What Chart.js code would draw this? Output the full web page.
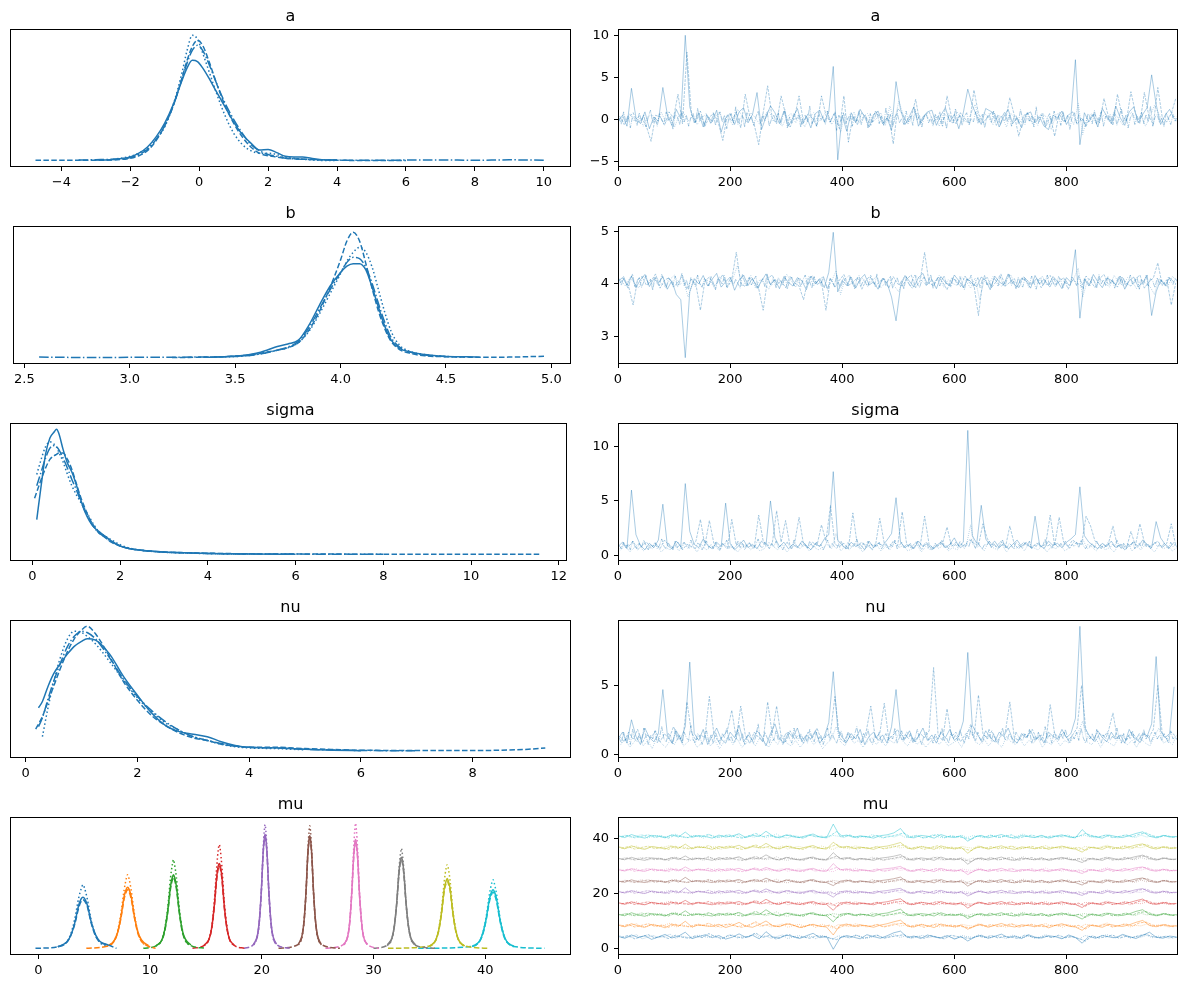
<!DOCTYPE html>
<html><head><meta charset="utf-8">
<script src="https://cdn.jsdelivr.net/npm/chart.js@4.4.0/dist/chart.umd.min.js"></script>
<style>
html,body{margin:0;padding:0;background:#fff;}
#fig{position:relative;width:1187px;height:989px;overflow:hidden;background:#fff;}
.panel{position:absolute;}
</style></head><body><div id="fig"></div>
<script>
// ---------------- titles & ticks ----------------
const titles = ['a','b','sigma','nu','mu'];
const aKdeTicks = [-4,-2,0,2,4,6,8,10], aKdeTickLabels = ['−4','−2','0','2','4','6','8','10'];
const bKdeTicks = [2.5,3.0,3.5,4.0,4.5,5.0], bKdeTickLabels = ['2.5','3.0','3.5','4.0','4.5','5.0'];
const sKdeTicks = [0,2,4,6,8,10,12], sKdeTickLabels = ['0','2','4','6','8','10','12'];
const nKdeTicks = [0,2,4,6,8], nKdeTickLabels = ['0','2','4','6','8'];
const mKdeTicks = [0,10,20,30,40], mKdeTickLabels = ['0','10','20','30','40'];
const drawTicks = [0,200,400,600,800], drawTickLabels = ['0','200','400','600','800'];
const aTraceTicks = [-5,0,5,10], aTraceTickLabels = ['−5','0','5','10'];
const bTraceTicks = [3,4,5], bTraceTickLabels = ['3','4','5'];
const sTraceTicks = [0,5,10], sTraceTickLabels = ['0','5','10'];
const nTraceTicks = [0,5], nTraceTickLabels = ['0','5'];
const mTraceTicks = [0,20,40], mTraceTickLabels = ['0','20','40'];

// ---------------- KDE data (left column) ----------------
const aKdeGrid = [-4.75,-4,-3.5,-3,-2.5,-2,-1.75,-1.5,-1.25,-1,-0.75,-0.5,-0.35,-0.2,-0.05,0.1,0.3,0.5,0.75,1,1.25,1.5,1.75,2,2.25,2.5,2.75,3,3.25,3.5,4,5,6,7,8,9,10.05];
const aKdeC0 = [null,null,null,0.005,0.01,0.03,0.06,0.11,0.19,0.30,0.45,0.64,0.74,0.80,0.79,0.74,0.65,0.55,0.43,0.31,0.21,0.14,0.085,0.09,0.065,0.035,0.03,0.03,0.02,0.01,0.005,null,null,null,null,null,null];
const aKdeC1 = [0.003,0.003,0.003,0.004,0.006,0.02,0.04,0.08,0.16,0.28,0.44,0.66,0.80,0.91,0.96,0.92,0.78,0.62,0.44,0.30,0.19,0.11,0.06,0.04,0.03,0.02,0.015,0.012,0.01,0.008,0.004,0.002,0.002,null,null,null,null];
const aKdeC2 = [null,null,null,null,0.01,0.035,0.06,0.10,0.17,0.27,0.45,0.70,0.88,1.0,0.97,0.86,0.70,0.54,0.36,0.22,0.13,0.08,0.06,0.06,0.05,0.03,0.02,0.012,0.006,0.003,0.002,null,null,null,null,null,null];
const aKdeC3 = [null,null,0.005,0.008,0.012,0.025,0.05,0.09,0.17,0.28,0.44,0.65,0.78,0.88,0.92,0.88,0.76,0.62,0.46,0.33,0.22,0.13,0.08,0.05,0.035,0.02,0.015,0.012,0.01,0.008,0.005,0.004,0.005,0.006,0.004,0.007,0.004];

const bKdeGrid = [2.57,2.8,3.0,3.2,3.35,3.45,3.55,3.6,3.65,3.7,3.75,3.8,3.85,3.9,3.95,4.0,4.03,4.06,4.09,4.12,4.15,4.18,4.21,4.24,4.28,4.33,4.4,4.5,4.6,4.66,4.8,4.97];
const bKdeC0 = [null,null,null,null,0.003,0.008,0.02,0.035,0.06,0.09,0.11,0.14,0.26,0.42,0.57,0.68,0.73,0.75,0.75,0.70,0.56,0.40,0.25,0.14,0.075,0.045,0.025,0.01,0.008,0.004,null,null];
const bKdeC1 = [null,null,null,0.002,0.004,0.008,0.02,0.03,0.045,0.06,0.08,0.12,0.22,0.37,0.56,0.78,0.93,1.0,0.93,0.75,0.55,0.37,0.23,0.13,0.065,0.035,0.015,0.008,0.005,0.004,0.005,0.012];
const bKdeC2 = [null,null,null,null,null,0.005,0.015,0.025,0.04,0.06,0.08,0.12,0.21,0.35,0.51,0.67,0.77,0.84,0.88,0.84,0.72,0.54,0.36,0.21,0.10,0.05,0.025,0.01,0.005,null,null,null];
const bKdeC3 = [0.005,0.002,0.003,0.004,0.006,0.008,0.015,0.025,0.04,0.06,0.085,0.13,0.24,0.39,0.54,0.68,0.76,0.80,0.79,0.72,0.59,0.43,0.28,0.16,0.085,0.045,0.022,0.01,null,null,null,null];

const sKdeGrid = [0.05,0.1,0.2,0.3,0.4,0.5,0.55,0.6,0.7,0.8,0.9,1.0,1.1,1.2,1.3,1.4,1.5,1.65,1.8,2.0,2.2,2.5,3.0,3.5,4.0,4.5,5,6,7,8,9,10,11.6];
const sKdeC0 = [null,0.28,0.55,0.80,0.93,0.98,1.0,0.97,0.84,0.73,0.66,0.56,0.44,0.34,0.27,0.22,0.19,0.15,0.11,0.07,0.05,0.035,0.022,0.015,0.01,0.007,0.005,0.004,null,null,null,null,null];
const sKdeC1 = [0.45,0.50,0.60,0.69,0.76,0.79,0.80,0.81,0.81,0.76,0.68,0.57,0.46,0.37,0.29,0.23,0.18,0.14,0.10,0.07,0.05,0.035,0.022,0.016,0.012,0.009,0.007,0.006,0.005,0.004,0.004,0.003,0.004];
const sKdeC2 = [null,0.64,0.76,0.86,0.90,0.88,0.86,0.82,0.74,0.64,0.55,0.48,0.42,0.36,0.30,0.24,0.19,0.15,0.12,0.08,0.055,0.035,0.02,0.013,0.009,0.006,0.005,null,null,null,null,null,null];
const sKdeC3 = [null,0.55,0.66,0.77,0.85,0.87,0.86,0.84,0.77,0.69,0.60,0.52,0.43,0.35,0.28,0.22,0.18,0.14,0.105,0.07,0.05,0.034,0.02,0.014,0.01,0.007,0.006,0.005,0.004,0.003,null,null,null];

const nKdeGrid = [0.18,0.23,0.3,0.4,0.5,0.6,0.75,0.87,1.0,1.1,1.25,1.5,1.75,2.0,2.25,2.5,2.75,3.0,3.25,3.5,3.75,4.0,4.5,5.0,5.5,6.0,7.0,8.0,8.5,9.0,9.3];
const nKdeC0 = [null,0.35,0.40,0.52,0.62,0.69,0.78,0.84,0.88,0.90,0.89,0.78,0.60,0.45,0.31,0.21,0.16,0.14,0.12,0.08,0.05,0.035,0.03,0.02,0.012,0.008,null,null,null,null,null];
const nKdeC1 = [0.18,0.22,0.28,0.40,0.52,0.64,0.80,0.90,0.97,1.0,0.94,0.76,0.56,0.41,0.29,0.21,0.15,0.11,0.09,0.06,0.045,0.035,0.035,0.025,0.018,0.012,0.01,0.01,0.012,0.02,0.03];
const nKdeC2 = [null,null,0.12,0.35,0.55,0.72,0.90,0.96,0.95,0.92,0.86,0.72,0.57,0.43,0.32,0.23,0.17,0.12,0.09,0.06,0.04,0.03,0.025,0.015,null,null,null,null,null,null,null];
const nKdeC3 = [null,0.20,0.27,0.42,0.56,0.68,0.84,0.92,0.96,0.95,0.90,0.75,0.58,0.44,0.33,0.24,0.17,0.12,0.09,0.065,0.045,0.035,0.03,0.02,0.014,0.01,0.008,null,null,null,null];

const muKdeX = [
 [-0.25,1.75,2.5,2.88,3.25,3.63,3.85,4.0,4.15,4.38,4.75,5.13,5.5,6.25,7.0],
 [4.3,6.14,6.76,7.07,7.38,7.69,7.88,8.0,8.12,8.31,8.62,8.93,9.24,9.86,10.5],
 [9.4,10.54,11.06,11.32,11.58,11.84,12.0,12.1,12.2,12.36,12.62,12.88,13.14,13.66,15.0],
 [13.8,14.85,15.3,15.53,15.75,15.98,16.11,16.2,16.29,16.43,16.65,16.88,17.1,17.55,18.5],
 [18.4,19.28,19.62,19.79,19.96,20.13,20.23,20.3,20.37,20.47,20.64,20.81,20.98,21.32,22.5],
 [21.5,23.28,23.62,23.79,23.96,24.13,24.23,24.3,24.37,24.47,24.64,24.81,24.98,25.32,27.0],
 [25.7,27.35,27.7,27.88,28.05,28.23,28.33,28.4,28.47,28.58,28.75,28.93,29.1,29.45,30.5],
 [30.0,31.24,31.66,31.87,32.08,32.29,32.42,32.5,32.58,32.71,32.92,33.13,33.34,33.76,35.5],
 [31.3,35.04,35.56,35.82,36.08,36.34,36.5,36.6,36.7,36.86,37.12,37.38,37.64,38.16,40.4],
 [34.0,38.84,39.46,39.77,40.08,40.39,40.58,40.7,40.82,41.01,41.32,41.63,41.94,42.56,45.3]
];
const muKdeSolid = [
 [null,0.016,0.05,0.10,0.2,0.35,0.40,0.41,0.40,0.35,0.21,0.11,0.06,0.03,null],
 [null,0.02,0.06,0.12,0.245,0.42,0.475,0.49,0.475,0.42,0.25,0.13,0.07,0.025,null],
 [null,0.024,0.07,0.15,0.295,0.50,0.57,0.59,0.57,0.50,0.30,0.15,0.08,0.03,null],
 [null,0.027,0.08,0.17,0.34,0.58,0.66,0.68,0.66,0.58,0.34,0.17,0.08,0.027,null],
 [null,0.036,0.11,0.23,0.455,0.77,0.88,0.91,0.88,0.77,0.455,0.23,0.11,0.036,null],
 [null,0.036,0.11,0.225,0.45,0.765,0.87,0.90,0.87,0.765,0.45,0.225,0.11,0.036,null],
 [null,0.035,0.1,0.22,0.435,0.74,0.84,0.87,0.84,0.74,0.435,0.22,0.1,0.035,null],
 [null,0.03,0.088,0.18,0.365,0.62,0.71,0.73,0.71,0.62,0.365,0.18,0.088,0.03,null],
 [null,0.022,0.067,0.14,0.28,0.48,0.54,0.56,0.54,0.48,0.28,0.14,0.067,0.022,null],
 [null,0.019,0.056,0.12,0.235,0.40,0.455,0.47,0.455,0.40,0.235,0.12,0.056,0.019,null]
];
const muKdeDashed = [
 [0.003,0.015,0.045,0.1,0.19,0.33,0.38,0.39,0.38,0.34,0.2,0.1,0.055,0.03,0.003],
 [0.003,0.02,0.055,0.12,0.235,0.40,0.455,0.47,0.455,0.40,0.24,0.12,0.06,0.02,0.003],
 [0.003,0.023,0.068,0.14,0.285,0.48,0.55,0.57,0.55,0.48,0.29,0.14,0.07,0.025,0.003],
 [0.003,0.026,0.08,0.165,0.33,0.56,0.64,0.66,0.64,0.56,0.33,0.165,0.08,0.026,0.003],
 [0.003,0.035,0.105,0.22,0.445,0.76,0.86,0.89,0.86,0.76,0.445,0.22,0.105,0.035,0.003],
 [0.003,0.035,0.105,0.22,0.44,0.75,0.85,0.88,0.85,0.75,0.44,0.22,0.105,0.035,0.003],
 [0.003,0.034,0.1,0.21,0.425,0.72,0.82,0.85,0.82,0.72,0.425,0.21,0.1,0.034,0.003],
 [0.003,0.028,0.085,0.18,0.355,0.60,0.69,0.71,0.69,0.60,0.355,0.18,0.085,0.028,0.003],
 [0.003,0.022,0.065,0.135,0.27,0.46,0.52,0.54,0.52,0.46,0.27,0.135,0.065,0.022,0.003],
 [0.003,0.018,0.054,0.11,0.225,0.38,0.435,0.45,0.435,0.38,0.225,0.11,0.054,0.018,0.003]
];
const muKdeDotted = [
 [null,0.015,0.05,0.11,0.23,0.41,0.48,0.51,0.48,0.40,0.22,0.11,0.05,0.02,null],
 [null,0.018,0.06,0.13,0.27,0.47,0.56,0.59,0.56,0.47,0.27,0.13,0.06,0.018,null],
 [null,0.02,0.07,0.16,0.32,0.57,0.67,0.71,0.67,0.57,0.32,0.16,0.07,0.02,null],
 [null,0.025,0.08,0.18,0.37,0.66,0.79,0.83,0.79,0.66,0.37,0.18,0.08,0.025,null],
 [null,0.03,0.1,0.22,0.45,0.79,0.94,0.99,0.94,0.79,0.45,0.22,0.1,0.03,null],
 [null,0.03,0.1,0.22,0.44,0.78,0.93,0.98,0.93,0.78,0.44,0.22,0.1,0.03,null],
 [null,0.03,0.1,0.22,0.45,0.8,0.95,1.0,0.95,0.8,0.45,0.22,0.1,0.03,null],
 [null,0.024,0.08,0.18,0.36,0.64,0.76,0.80,0.76,0.64,0.36,0.18,0.08,0.024,null],
 [null,0.02,0.067,0.15,0.3,0.54,0.64,0.67,0.64,0.54,0.3,0.15,0.067,0.02,null],
 [null,0.017,0.055,0.12,0.25,0.44,0.52,0.55,0.52,0.44,0.25,0.12,0.055,0.017,null]
];

// ---------------- trace data (right column) ----------------
// chains 1-3 sampled every 8 draws (offsets 0,3,5); chain 4 every 4 draws (offset 2)
const aTrace1 = [-0.3,0.5,-0.8,3.7,0.2,-0.5,0.9,-1.1,0.3,-0.2,3.8,0.6,-0.7,1.2,0.1,10.0,1.5,-0.4,0.8,-0.9,0.4,-0.3,1.1,-1.5,0.2,0.7,-0.6,0.9,1.4,-0.4,0.6,3.2,-1.2,0.3,1.6,0.8,-0.5,1.0,-0.8,0.2,1.3,-0.6,0.4,-1.0,0.7,1.1,-0.3,0.9,6.3,-4.8,0.5,-1.4,0.8,-0.4,1.2,0.3,-0.9,0.6,1.0,-0.5,0.2,-1.3,4.5,1.2,-0.6,0.4,1.5,-0.8,0.3,0.9,1.1,-0.7,0.5,1.4,-0.3,0.6,-1.1,0.8,3.6,1.7,0.4,-0.6,1.3,1.0,0.7,-0.9,0.3,1.2,-0.5,0.2,-1.0,0.6,0.9,-0.4,0.3,-0.8,-1.2,0.5,0.2,1.0,-0.6,0.4,7.1,-3.0,0.8,-0.3,0.6,-0.9,1.3,0.4,-0.5,1.6,0.2,-0.7,0.9,1.5,-0.4,0.6,1.4,5.3,1.8,-0.6,0.5,1.2,0.1];
const aTrace2 = [0.4,-0.6,0.2,0.8,-0.4,0.1,-0.9,-2.6,0.5,0.3,-0.7,0.9,0.2,3.0,-0.5,8.0,0.6,-0.3,1.0,-0.8,0.3,0.7,-0.4,-2.5,0.6,-0.2,0.9,-1.0,3.0,0.4,-0.6,-3.0,0.8,4.0,0.2,-0.5,2.8,0.6,-0.9,0.3,2.8,-0.4,0.7,0.1,-0.8,2.8,0.5,-0.3,0.9,-1.1,2.8,-2.7,0.4,-0.6,0.8,0.2,-0.7,1.0,0.3,-0.5,0.6,-2.9,1.3,0.7,-0.4,0.2,2.4,-0.6,0.5,0.9,-0.3,0.4,-0.8,2.8,0.3,-0.5,0.8,0.1,-0.6,3.5,0.7,-0.4,0.2,0.9,-0.7,0.4,-0.2,2.6,0.5,-2.0,0.3,0.8,-0.5,0.1,0.6,-0.9,0.4,-2.0,0.7,-0.3,0.5,0.9,-0.6,0.2,-0.8,0.4,0.6,-0.4,2.5,0.3,-0.7,3.0,0.5,-0.2,3.3,0.8,-0.5,3.2,0.4,-0.6,3.8,0.2,-0.3,0.7,2.5];
const aTrace3 = [0.1,-0.5,0.7,-0.2,0.4,-0.8,0.3,0.6,-0.4,0.9,-0.3,0.2,-0.9,0.5,0.8,-0.2,0.4,-0.6,0.1,0.7,-0.5,0.3,0.9,-0.4,0.2,-0.7,1.2,0.5,-0.3,0.8,0.2,-0.6,0.4,1.1,-0.2,0.6,-0.8,0.3,0.7,-0.4,0.5,-0.9,0.2,0.8,-0.3,0.4,1.0,-0.6,0.3,-1.5,0.6,-0.2,0.9,-0.5,0.3,0.7,-0.4,0.1,0.8,-0.7,1.6,-0.3,2.2,0.5,-0.6,0.2,0.8,-0.4,0.6,-0.2,0.4,-0.8,0.7,0.3,-0.5,0.9,0.1,-0.3,0.6,1.8,-0.4,0.8,0.2,-0.6,0.5,0.3,-0.9,0.7,0.1,-0.4,0.6,-0.2,0.3,-0.7,0.8,0.2,-1.2,0.5,0.9,-0.3,0.4,-0.6,1.9,-1.8,0.3,0.7,-0.5,0.2,0.6,-0.3,0.8,0.1,-0.7,0.4,0.9,-0.2,0.5,-0.8,0.3,1.7,0.6,-0.4,0.2,0.8,-0.3];
const aTrace4 = [0.2,-0.6,0.9,-0.3,0.5,-1.0,0.4,0.1,-0.7,0.8,-0.2,0.6,-0.9,0.3,1.1,-0.4,0.2,-0.8,0.7,0.0,-0.5,0.9,-0.1,0.4,-1.2,0.6,0.3,-0.6,1.0,-0.3,0.5,-0.8,0.2,0.7,-0.4,1.3,-0.2,0.4,-0.9,0.6,0.1,-0.5,0.8,-0.7,0.3,0.9,-0.3,0.5,-1.1,0.2,0.7,-0.4,1.5,-0.6,0.2,0.5,-0.9,0.8,-0.1,0.4,-0.7,0.3,1.0,-0.5,0.6,-0.2,0.9,-0.8,0.1,0.5,-0.3,0.8,-0.6,0.4,1.2,-1.0,0.3,-0.4,0.7,0.0,0.6,-0.9,0.2,0.5,-0.3,1.6,-0.5,0.2,-0.8,0.9,-0.1,0.4,-0.6,1.0,-0.4,0.3,0.7,-1.3,0.5,-0.2,0.8,-0.5,0.1,0.6,-0.8,0.4,-0.2,1.1,-0.6,0.3,0.5,-1.0,0.7,-0.3,0.2,0.9,-0.5,0.4,-0.7,1.4,-0.2,0.6,-0.9,0.3,0.8,-0.4,0.1,-0.6,1.0,-0.3,0.4,-0.7,1.2,-0.1,0.5,-0.9,0.3,0.7,-0.4,0.2,-0.8,0.6,0.0,0.9,-0.5,0.3,-1.1,0.7,0.2,-0.4,1.3,-0.2,0.5,-0.7,0.4,0.8,-0.6,0.1,-0.3,0.9,-0.5,0.3,0.6,-1.0,0.2,0.7,-0.4,1.0,-0.2,0.5,-0.7,0.4,0.9,-0.3,0.6,-0.8,0.2,0.5,-0.5,1.2,0.0,-0.6,0.8,-0.2,0.4,-0.9,1.5,-0.4,0.3,0.6,-0.8,0.2,0.7,-0.5,1.0,-0.1,0.4,-0.7,0.9,-0.3,0.5,-1.2,0.3,0.8,-0.4,0.6,-0.2,0.1,-0.9,0.7,0.3,-0.5,1.1,-0.6,0.2,0.9,-0.8,0.4,-0.1,0.6,-0.4,0.8,-0.7,0.3,1.3,-0.3,0.5,-1.0,0.2,0.7,-0.6,0.4,0.0,0.9,-0.5,0.6,-0.3,1.6,-0.8,0.3,0.6,-0.4,0.2,-0.9,0.8,0.1,-0.6,0.5,-0.2,0.4];

const bTrace1 = [4.05,4.12,3.98,4.15,3.93,4.08,4.18,3.95,4.10,4.02,4.14,3.90,4.06,3.80,3.70,2.60,3.85,4.10,4.00,4.16,3.96,4.09,4.20,3.94,4.04,4.13,3.88,4.07,4.17,3.97,4.11,3.92,4.05,4.19,3.99,4.08,3.91,4.14,4.03,3.96,4.12,4.06,3.89,4.15,4.00,4.10,3.93,4.22,4.98,3.85,4.07,3.97,4.13,3.92,4.09,4.18,3.98,4.04,3.90,4.11,4.02,3.75,3.30,3.95,4.16,4.05,3.94,4.12,4.20,3.99,4.08,3.91,4.14,4.03,3.96,4.17,4.06,3.93,4.10,4.01,3.95,4.13,4.07,3.89,4.15,4.04,3.98,4.19,4.02,3.94,4.11,4.06,3.92,4.16,4.00,4.09,3.97,4.14,4.05,3.91,4.12,4.03,4.65,3.35,4.10,3.96,4.18,4.04,3.93,4.11,4.07,3.98,4.15,3.90,4.06,4.13,3.95,4.02,4.17,3.40,3.85,4.08,3.97,4.12,4.03];
const bTrace2 = [4.02,4.10,3.95,3.60,4.08,4.14,3.97,4.05,4.19,3.92,4.07,4.12,3.94,4.03,4.16,3.90,4.09,3.99,3.50,4.06,4.13,3.96,4.04,4.18,3.93,4.08,4.60,4.01,3.95,4.12,4.05,3.91,3.50,4.10,4.17,3.98,4.06,3.93,4.14,4.02,3.96,3.70,4.09,4.15,3.99,4.04,3.50,4.11,3.94,4.07,4.18,3.97,4.03,4.12,3.90,4.08,4.16,3.95,4.05,4.10,3.92,4.14,4.00,3.96,4.09,4.17,3.93,4.06,4.60,4.01,3.97,4.13,4.04,3.89,4.11,4.07,3.95,4.15,4.02,3.98,3.40,4.08,4.12,3.94,4.05,4.19,3.96,4.03,4.10,3.92,4.14,4.06,3.99,4.11,3.93,4.07,4.16,3.97,4.04,4.12,3.90,4.08,4.02,3.95,4.15,4.05,3.93,4.10,4.18,3.98,4.06,3.94,4.13,4.01,3.96,4.09,4.17,3.92,4.04,4.11,4.40,3.97,4.08,3.60,4.02];
const bTrace3 = [4.08,3.96,4.11,4.03,3.92,4.15,4.05,3.98,4.12,4.01,3.94,4.09,4.17,3.97,4.06,3.75,4.02,4.13,3.95,4.08,4.04,3.91,4.14,4.07,3.99,4.10,4.35,3.96,4.05,4.16,3.93,4.08,4.02,3.90,4.12,4.04,3.97,4.18,4.06,3.94,4.10,4.01,4.15,3.96,4.07,4.13,3.92,4.05,4.25,3.80,4.09,4.17,3.95,4.03,4.11,3.98,4.06,4.14,3.93,4.02,4.08,3.96,3.85,4.12,4.04,3.91,4.15,4.07,3.99,4.10,4.03,4.16,3.94,4.08,4.01,3.97,4.13,4.05,3.92,4.11,3.70,4.06,3.98,4.14,4.02,3.95,4.09,4.17,3.96,4.04,4.12,3.93,4.07,4.00,4.15,3.97,4.06,3.94,4.11,4.03,3.98,4.10,4.30,3.75,4.05,4.13,3.96,4.08,4.01,3.94,4.16,4.04,3.97,4.12,4.06,3.91,4.09,4.02,3.95,3.80,4.10,4.03,3.96,4.14,4.07];
const bTrace4 = [4.10,3.97,4.14,4.02,3.91,4.08,4.19,3.95,4.06,4.12,3.93,4.04,4.16,3.99,4.09,3.88,4.13,4.01,3.96,4.18,4.05,3.92,4.11,4.07,3.98,4.15,3.94,4.03,4.20,3.97,4.08,3.90,4.12,4.04,3.95,4.17,4.00,3.93,4.10,4.06,3.96,4.14,4.02,3.89,4.11,4.07,3.99,4.16,3.94,4.05,4.13,3.97,4.09,4.01,3.92,4.18,4.04,3.96,4.12,3.98,4.07,4.15,3.91,4.03,4.10,3.95,4.19,4.02,3.97,4.08,3.93,4.12,4.05,3.99,4.16,3.90,4.06,4.13,3.96,4.02,4.11,3.94,4.08,4.17,3.98,4.04,3.92,4.14,4.01,4.09,3.97,4.15,4.03,3.88,4.10,4.06,3.95,4.18,4.00,3.93,4.12,4.05,3.96,4.14,4.02,3.91,4.09,4.16,3.97,4.07,4.01,3.94,4.13,4.06,3.99,4.19,3.93,4.04,4.11,3.96,4.08,4.15,3.92,4.03,4.12,3.98,4.06,3.90,4.14,4.02,3.95,4.10,4.17,4.00,3.93,4.07,4.13,3.97,4.05,4.18,3.91,4.04,4.11,3.96,4.08,4.15,3.99,4.02,3.94,4.12,4.06,3.97,4.14,4.01,3.89,4.10,4.05,4.17,3.95,4.03,4.12,3.93,4.08,4.16,3.98,4.04,3.92,4.11,4.07,3.96,4.14,4.02,3.95,4.09,4.18,3.97,4.05,3.91,4.13,4.00,3.94,4.11,4.06,3.99,4.15,4.03,3.90,4.08,4.12,3.96,4.05,4.17,3.93,4.02,4.10,3.98,4.14,4.06,3.92,4.09,4.01,3.95,4.13,4.07,3.97,4.16,4.04,3.91,4.10,4.03,3.96,4.12,4.05,3.93,4.18,4.00,4.08,3.97,4.14,4.02,4.09,3.92,4.06,4.15,3.99,4.11,3.94,4.04,4.17,3.98,4.03,4.13,3.90,4.07,4.01,4.16,3.96,4.10,4.05,3.93,4.12,3.98,4.08,4.02,3.95,4.14,4.06,3.99,4.11,4.04];

const sTrace1 = [0.8,1.2,0.6,6.0,1.9,0.9,0.5,1.1,0.7,1.4,4.7,0.9,0.6,1.3,0.8,6.6,2.2,1.0,0.7,1.5,0.9,0.6,1.2,0.8,4.8,1.1,0.5,0.9,1.4,0.7,1.0,0.6,1.3,0.9,5.0,1.6,0.8,1.2,0.6,1.0,0.7,1.3,0.9,0.5,1.1,0.8,1.5,1.9,7.7,1.4,0.9,0.6,1.2,0.8,1.0,0.5,1.3,0.7,1.1,0.9,1.4,2.0,5.3,1.2,0.7,1.0,0.6,1.3,0.8,1.1,0.5,0.9,1.2,0.7,1.0,1.6,0.8,1.2,11.5,1.8,1.1,4.6,1.5,0.9,1.3,0.7,1.1,0.6,1.0,1.4,0.8,1.2,0.7,3.6,1.0,0.6,1.3,0.9,1.1,0.7,1.2,1.5,1.9,6.3,1.8,1.2,0.9,0.6,1.1,0.8,1.3,0.7,1.0,0.5,0.9,1.2,0.8,1.4,1.0,0.7,3.1,1.6,1.0,0.7,1.2];
const sTrace2 = [0.6,1.0,0.8,1.3,0.5,0.9,1.2,0.7,1.1,0.6,1.4,0.9,0.7,1.2,0.5,1.0,0.8,1.3,3.3,0.9,3.2,1.1,0.7,1.0,0.6,3.3,0.9,1.2,0.8,1.1,0.7,3.7,1.3,0.9,1.0,4.1,1.2,3.2,0.8,1.1,3.5,1.0,0.7,1.2,0.9,2.8,1.3,4.6,1.0,0.8,1.1,0.6,3.9,0.9,1.2,0.7,1.0,0.8,3.4,1.1,0.6,1.3,0.9,4.0,1.0,0.7,1.2,0.8,3.6,1.0,0.6,0.9,1.1,2.6,0.8,1.2,0.7,1.0,1.4,1.1,0.9,2.9,1.5,1.0,0.8,1.3,0.7,2.7,1.0,0.6,1.2,0.9,0.7,1.1,0.8,1.0,3.7,0.9,3.5,1.2,0.8,1.4,1.1,1.0,3.6,2.7,1.3,0.9,0.7,1.1,2.7,0.8,1.0,0.6,2.2,0.9,2.9,1.2,0.8,1.0,1.3,0.7,1.1,2.9,0.9];
const sTrace3 = [0.5,0.9,0.3,0.7,1.1,0.4,0.8,0.6,1.0,0.3,0.7,0.5,0.9,0.4,1.2,0.6,0.8,0.3,1.0,0.5,0.7,0.9,0.4,1.1,0.6,0.8,0.3,0.7,1.0,0.5,0.9,0.4,0.6,1.2,0.8,0.5,1.0,0.3,0.7,0.9,0.6,1.1,0.4,0.8,0.5,0.7,1.0,0.6,2.0,0.4,0.8,0.5,1.1,0.7,0.3,0.9,0.6,1.0,0.4,0.8,0.5,1.2,0.7,0.9,0.4,0.6,1.0,0.3,0.8,0.5,0.9,0.6,1.1,0.4,0.7,0.5,1.0,0.8,2.8,0.6,0.9,0.4,1.2,0.7,0.5,1.0,0.3,0.8,0.6,0.9,0.4,1.1,0.7,0.5,0.9,0.3,0.8,0.6,1.0,0.4,0.7,1.2,0.9,1.5,0.6,0.8,0.4,1.0,0.5,0.7,0.3,0.9,0.6,1.1,0.4,0.8,0.5,1.0,0.7,0.3,0.9,0.6,0.8,0.4,0.7];
const sTrace4 = [0.9,0.6,1.2,0.7,1.0,0.5,1.3,0.8,0.6,1.1,0.7,1.4,0.9,0.5,1.0,0.8,1.2,0.6,0.9,1.5,0.8,0.6,1.1,0.9,0.5,1.3,0.7,1.0,0.6,1.2,0.9,0.7,1.4,0.8,0.6,1.1,1.0,0.5,0.9,1.3,0.7,1.0,0.6,1.2,0.8,0.5,1.1,0.9,1.4,0.7,1.0,0.6,0.8,1.3,0.7,1.1,0.5,0.9,1.2,0.8,0.6,1.0,1.5,0.8,0.7,1.2,0.9,0.6,1.1,0.8,1.3,0.7,0.9,0.5,1.0,1.2,0.8,0.6,1.4,0.9,0.7,1.1,0.8,1.0,0.6,1.3,0.9,0.7,1.2,0.8,1.0,0.5,0.9,1.4,0.7,1.1,0.8,0.6,1.0,1.3,0.8,0.6,1.2,0.9,0.7,1.0,1.5,0.8,0.6,1.1,0.9,1.3,0.7,0.5,1.0,0.8,1.2,0.6,0.9,1.1,0.7,1.0,0.8,1.4,0.6,0.9,1.2,0.7,1.0,0.8,1.1,0.6,0.9,1.3,0.8,0.5,1.0,1.2,0.7,0.9,0.6,1.1,0.8,1.0,1.4,0.7,0.9,0.6,1.2,0.8,1.0,0.7,1.3,0.9,0.6,1.1,0.8,1.5,0.9,0.7,1.2,0.8,0.6,1.0,0.9,1.3,0.7,1.1,0.8,0.6,1.0,1.4,0.8,0.7,1.1,0.9,0.6,1.2,1.0,0.8,0.7,1.1,0.9,1.3,0.6,1.0,0.8,1.2,0.7,0.9,1.5,0.8,1.0,0.6,1.2,0.9,0.7,1.1,0.8,1.3,0.9,0.6,1.0,0.8,1.2,0.7,1.4,0.9,0.6,1.0,0.8,1.1,0.7,1.3,0.9,0.6,1.0,0.8,1.2,0.7,1.0,0.8,1.4,0.9,0.6,1.1,0.7,1.0,0.8,1.2,0.6,0.9,1.1,0.7,1.3,0.8,1.0,0.6,0.9,1.2,0.8,1.0,0.7,1.1,0.9,0.6,1.2,0.8,1.0,0.7];

const nTrace1 = [1.1,1.6,0.8,2.5,1.3,0.7,1.9,1.2,0.9,1.5,4.7,1.4,0.8,1.7,1.1,2.0,6.7,1.5,1.0,1.8,0.7,1.3,1.9,1.1,0.8,1.6,1.2,2.1,0.9,1.4,1.0,1.7,1.3,0.6,1.5,2.2,1.1,0.8,1.6,1.2,1.9,0.9,1.4,1.1,1.7,0.8,1.3,2.3,6.0,1.8,1.2,0.9,1.5,1.1,1.8,0.7,1.3,1.6,1.0,1.4,0.8,2.0,4.7,1.5,1.1,1.7,0.9,1.3,1.9,1.0,1.4,0.8,1.6,1.2,1.8,1.0,1.3,2.4,7.4,2.1,1.5,1.0,1.7,1.2,0.9,1.6,1.3,1.9,1.1,0.8,1.5,1.2,1.7,1.0,1.4,0.8,1.6,1.3,1.1,1.8,1.2,1.5,2.6,9.3,2.0,1.4,1.0,1.7,1.2,0.9,1.6,1.1,1.4,0.8,1.8,1.2,1.0,1.5,1.3,2.2,7.1,1.7,1.2,1.5,4.9];
const nTrace2 = [1.3,0.9,1.6,1.1,1.8,0.8,1.4,1.2,1.7,0.9,1.5,1.1,2.0,1.3,0.8,3.8,1.6,1.0,1.4,1.2,4.2,1.5,0.9,1.3,1.7,3.2,1.1,3.5,1.4,0.8,1.6,1.2,1.0,3.8,1.5,3.5,1.3,0.9,1.7,1.1,1.4,0.8,1.6,1.2,1.9,1.0,1.3,1.5,4.2,1.2,0.9,1.6,1.1,1.4,0.8,1.7,3.5,1.2,1.5,3.7,1.1,1.4,1.8,1.0,1.6,1.3,0.9,1.5,1.2,1.7,6.3,1.4,1.0,3.3,1.3,1.6,0.9,1.4,1.8,1.2,4.3,1.5,1.1,1.7,0.9,1.3,1.6,3.8,1.2,1.0,1.5,1.3,1.8,1.1,1.4,0.8,3.6,1.5,1.2,1.6,1.0,1.4,1.9,5.0,1.6,1.2,0.9,1.5,1.3,1.7,3.0,1.1,1.4,1.0,1.6,1.3,0.8,1.5,1.2,1.8,5.0,1.4,1.1,1.6,1.3];
const nTrace3 = [0.7,1.1,0.5,0.9,1.3,0.6,1.0,0.4,1.2,0.8,0.5,1.0,0.7,1.4,0.6,0.9,1.1,0.5,0.8,1.2,0.6,1.0,0.4,0.9,1.3,0.7,1.1,0.5,0.8,1.0,0.6,1.2,0.9,0.5,1.1,0.7,1.4,0.8,0.6,1.0,0.5,0.9,1.2,0.7,1.0,0.4,0.8,1.1,2.0,0.9,0.6,1.3,0.8,1.0,0.5,0.9,1.2,0.7,1.1,0.6,1.0,0.8,1.5,0.9,0.6,1.2,0.7,1.0,0.5,0.9,1.3,0.7,1.1,0.6,0.8,1.0,0.5,1.2,2.2,0.9,0.7,1.1,0.6,1.0,0.8,0.5,1.3,0.9,0.7,1.1,0.6,1.0,0.8,1.2,0.5,0.9,0.7,1.1,0.6,1.0,0.8,1.2,1.6,2.4,0.9,0.7,1.1,0.5,1.0,0.8,0.6,1.2,0.9,0.7,1.0,0.5,1.1,0.8,0.6,1.3,1.9,0.8,1.0,0.7,1.4];
const nTrace4 = [1.2,0.8,1.6,1.0,1.4,0.7,1.8,1.1,0.9,1.5,1.0,1.9,1.3,0.7,1.4,1.1,1.7,0.8,1.2,2.0,1.1,0.9,1.5,1.3,0.7,1.8,1.0,1.4,0.8,1.6,1.2,1.0,2.1,1.1,0.8,1.5,1.3,0.7,1.2,1.7,0.9,1.4,0.8,1.6,1.1,0.7,1.5,1.2,1.9,1.0,1.3,0.8,1.1,1.8,1.0,1.5,0.7,1.2,1.6,1.1,0.8,1.3,2.2,1.1,0.9,1.6,1.2,0.8,1.5,1.0,1.7,1.0,1.2,0.7,1.4,1.6,1.1,0.8,1.9,1.2,1.0,1.5,1.1,1.3,0.8,1.8,1.2,0.9,1.6,1.1,1.4,0.7,1.2,1.9,1.0,1.5,1.1,0.8,1.3,1.7,1.1,0.8,1.6,1.2,1.0,1.4,2.0,1.1,0.8,1.5,1.2,1.8,1.0,0.7,1.4,1.1,1.6,0.8,1.2,1.5,1.0,1.3,1.1,1.9,0.8,1.2,1.7,1.0,1.4,1.1,1.5,0.8,1.2,1.8,1.1,0.7,1.4,1.6,1.0,1.2,0.8,1.5,1.1,1.3,1.9,1.0,1.2,0.8,1.6,1.1,1.4,1.0,1.8,1.2,0.8,1.5,1.1,2.1,1.2,1.0,1.6,1.1,0.8,1.4,1.2,1.8,1.0,1.5,1.1,0.8,1.4,1.9,1.1,1.0,1.5,1.2,0.8,1.6,1.3,1.1,1.0,1.5,1.2,1.8,0.8,1.3,1.1,1.6,1.0,1.2,2.0,1.1,1.4,0.8,1.6,1.2,1.0,1.5,1.1,1.8,1.2,0.8,1.4,1.1,1.6,1.0,1.9,1.2,0.8,1.3,1.1,1.5,1.0,1.8,1.2,0.8,1.4,1.1,1.6,1.0,1.3,1.1,1.9,1.2,0.8,1.5,1.0,1.4,1.1,1.7,0.8,1.2,1.5,1.0,1.8,1.1,1.4,0.8,1.2,1.6,1.1,1.4,1.0,1.5,1.2,0.8,1.7,1.1,1.3,1.0];

// mu traces: chain 1 every 12 draws from 0, chain 2 every 12 draws from 6, chain 3 every 10 draws from 3
const muTrace1 = [
 [4.3,3.6,4.8,3.9,4.5,3.2,4.1,5.0,3.7,4.4,5.8,3.5,4.2,4.9,3.8,4.6,3.3,4.0,5.2,3.9,4.7,3.4,6.0,4.1,3.6,4.8,4.2,3.5,4.5,5.4,3.8,4.3,-0.4,3.7,4.6,4.0,3.4,4.9,4.2,3.6,4.5,5.6,6.2,3.9,4.4,3.5,4.8,4.1,3.7,4.6,3.3,4.2,2.6,4.0,4.7,3.6,4.3,5.1,3.8,4.4,3.5,4.9,4.0,3.7,4.5,4.2,3.4,4.8,3.9,1.8,4.3,3.6,4.6,4.1,3.8,5.0,4.2,3.5,4.7,5.8,4.0,3.6,4.4,4.1],
 [8.4,7.8,8.9,8.1,7.6,8.6,8.2,7.4,8.8,8.0,9.8,7.7,8.5,8.1,7.9,8.7,7.5,8.3,9.4,8.0,7.6,8.6,9.9,8.2,7.8,8.9,8.4,7.5,8.1,8.7,8.0,7.7,4.8,8.3,8.8,7.9,8.5,8.1,7.6,8.4,8.9,9.6,10.2,8.0,7.7,8.6,8.2,7.5,8.8,8.1,7.8,8.4,6.9,8.0,8.7,7.6,8.3,9.0,8.1,7.7,8.5,8.2,7.9,8.6,7.4,8.3,8.9,8.0,7.7,6.5,8.4,8.1,7.6,8.7,8.2,7.9,8.5,9.4,10.1,8.3,7.8,8.6,8.0,8.2],
 [12.4,11.8,12.9,12.1,11.6,12.6,12.2,11.7,12.8,12.0,13.6,11.9,12.5,12.1,11.7,12.7,12.0,12.3,13.0,11.8,12.6,12.2,14.0,12.4,11.7,12.8,12.1,11.9,12.5,12.9,12.0,11.8,9.6,12.3,12.7,11.9,12.4,12.1,11.6,12.5,12.8,13.5,14.2,12.0,11.8,12.6,12.3,11.7,12.9,12.1,11.9,12.4,10.8,12.0,12.6,11.8,12.3,12.9,12.0,11.7,12.5,12.2,11.9,12.6,11.6,12.3,12.8,12.0,11.8,10.6,12.4,12.1,11.7,12.7,12.2,11.9,12.5,13.4,14.0,12.3,11.8,12.6,12.0,12.2],
 [16.5,16.0,16.9,16.2,15.8,16.7,16.3,15.9,16.8,16.1,17.4,16.0,16.6,16.2,15.8,16.8,16.1,16.4,17.0,15.9,16.7,16.3,17.8,16.5,15.9,16.9,16.2,16.0,16.6,17.0,16.1,15.9,13.8,16.4,16.8,16.0,16.5,16.2,15.8,16.6,16.9,17.5,18.0,16.1,15.9,16.7,16.4,15.8,17.0,16.2,16.0,16.5,14.6,16.1,16.7,15.9,16.4,17.0,16.1,15.8,16.6,16.3,16.0,16.7,15.8,16.4,16.9,16.1,15.9,14.8,16.5,16.2,15.8,16.8,16.3,16.0,16.6,17.3,17.9,16.4,15.9,16.7,16.1,16.3],
 [20.6,20.1,21.0,20.3,19.9,20.8,20.4,20.0,20.9,20.2,22.0,20.1,20.7,20.3,19.9,20.9,20.2,20.5,21.1,20.0,20.8,20.4,21.6,20.6,20.0,21.0,20.3,20.1,20.7,21.1,20.2,20.0,18.6,20.5,20.9,20.1,20.6,20.3,19.9,20.7,21.0,21.4,21.8,20.2,20.0,20.8,20.5,19.9,21.1,20.3,20.1,20.6,19.0,20.2,20.8,20.0,20.5,21.1,20.2,19.9,20.7,20.4,20.1,20.8,19.9,20.5,21.0,20.2,20.0,19.2,20.6,20.3,19.9,20.9,20.4,20.1,20.7,21.3,21.7,20.5,20.0,20.8,20.2,20.4],
 [24.5,24.0,24.9,24.2,23.9,24.7,24.4,24.0,24.8,24.1,25.8,24.2,24.6,24.3,23.9,24.8,24.1,24.5,25.0,24.0,24.7,24.3,25.5,24.5,23.9,24.9,24.2,24.0,24.6,25.0,24.1,23.9,22.8,24.4,24.8,24.0,24.5,24.2,23.8,24.6,24.9,25.3,25.9,24.1,23.9,24.7,24.4,23.8,25.0,24.2,24.0,24.5,22.6,24.1,24.7,23.9,24.4,25.0,24.1,23.8,24.6,24.3,24.0,24.7,23.8,24.4,24.9,24.1,23.9,23.0,24.5,24.2,23.8,24.8,24.3,24.0,24.6,25.2,25.6,24.4,23.9,24.7,24.1,24.3],
 [28.6,28.1,29.0,28.3,28.0,28.8,28.5,28.1,28.9,28.2,29.6,28.3,28.7,28.4,28.0,28.9,28.2,28.6,29.1,28.1,28.8,28.4,29.4,28.6,28.0,29.0,28.3,28.1,28.7,29.1,28.2,28.0,30.8,28.5,28.9,28.1,28.6,28.3,27.9,28.7,29.0,29.3,29.8,28.2,28.0,28.8,28.5,27.9,29.1,28.3,28.1,28.6,26.8,28.2,28.8,28.0,28.5,29.1,28.2,27.9,28.7,28.4,28.1,28.8,27.9,28.5,29.0,28.2,28.0,27.2,28.6,28.3,27.9,28.9,28.4,28.1,28.7,29.3,29.6,28.5,28.0,28.8,28.2,28.4],
 [32.8,32.2,33.1,32.4,32.0,32.9,32.6,32.1,33.0,32.3,33.6,32.2,32.8,32.5,32.0,33.0,32.3,32.7,33.3,32.1,32.9,32.5,34.0,32.7,32.1,33.1,32.4,32.2,32.8,33.2,32.3,32.1,34.8,32.6,33.0,32.2,32.7,32.4,32.0,32.8,33.1,33.5,34.1,32.3,32.1,32.9,32.6,32.0,33.2,32.4,32.2,32.7,30.6,32.3,32.9,32.1,32.6,33.2,32.3,32.0,32.8,32.5,32.2,32.9,32.0,32.6,33.1,32.3,32.1,31.2,32.7,32.4,32.0,33.0,32.5,32.2,32.8,33.4,33.9,32.6,32.1,32.9,32.3,32.5],
 [36.9,36.2,37.3,36.5,36.0,37.0,36.7,36.1,37.2,36.4,37.9,36.3,36.9,36.6,36.0,37.1,36.4,36.8,37.5,36.2,37.0,36.6,38.2,36.8,36.1,37.2,36.5,36.2,36.9,37.4,36.4,36.1,38.6,36.7,37.1,36.3,36.8,36.5,36.0,36.9,37.2,37.8,38.5,36.4,36.1,37.0,36.7,36.0,37.3,36.5,36.2,36.8,34.6,36.4,37.0,36.1,36.7,37.3,36.4,36.0,36.9,36.6,36.2,37.0,36.0,36.7,37.2,36.4,36.1,35.0,36.8,36.5,36.0,37.1,36.6,36.2,36.9,37.6,38.0,36.7,36.1,37.0,36.4,36.6],
 [41.0,40.3,41.4,40.6,40.1,41.1,40.8,40.2,41.3,40.5,42.3,40.4,41.0,40.7,40.1,41.2,40.5,40.9,41.7,40.3,41.1,40.7,42.6,40.9,40.2,41.3,40.6,40.3,41.0,41.6,40.5,40.2,45.2,40.8,41.2,40.4,40.9,40.6,40.1,41.0,41.3,42.0,43.6,40.5,40.2,41.1,40.8,40.1,41.4,40.6,40.3,40.9,39.0,40.5,41.1,40.2,40.8,41.4,40.5,40.1,41.0,40.7,40.3,41.1,40.1,40.8,41.3,40.5,40.2,43.2,40.9,40.6,40.1,41.2,40.7,40.3,41.0,41.8,42.4,40.8,40.2,41.1,40.5,40.7]
];
const muTrace2 = [
 [3.9,4.6,3.4,4.2,4.9,3.7,4.4,3.5,4.7,4.0,3.6,4.5,3.8,5.3,4.1,3.5,4.8,4.2,3.7,4.4,5.5,3.9,4.6,3.3,4.3,4.9,3.8,4.1,3.6,4.5,4.2,3.7,3.1,4.4,3.9,4.7,3.5,4.2,4.8,3.6,4.1,4.5,4.9,3.8,4.3,3.6,4.6,4.0,3.4,4.7,4.2,3.8,3.5,4.4,3.9,4.6,3.7,4.3,4.0,3.5,4.8,4.1,3.6,4.4,3.9,4.7,3.8,4.2,3.5,2.6,4.5,3.7,4.1,4.8,3.6,4.3,3.9,4.6,5.0,4.2,3.8,4.4,3.7,4.2],
 [8.0,8.6,7.7,8.3,8.9,7.9,8.4,7.6,8.7,8.1,7.8,8.5,8.2,9.1,7.7,8.4,8.8,8.0,7.6,8.5,9.6,8.1,8.7,7.8,8.3,8.9,8.0,7.5,8.6,8.2,7.9,8.4,7.0,8.1,8.7,7.8,8.3,8.0,8.6,7.7,8.2,8.8,9.1,8.0,8.5,7.6,8.3,8.9,7.9,8.4,8.1,7.7,7.4,8.5,8.0,8.6,7.8,8.3,8.9,7.6,8.2,8.7,8.0,7.8,8.4,8.1,8.6,7.9,8.3,7.0,8.5,8.0,8.7,7.7,8.2,8.8,8.1,9.2,9.5,8.4,8.0,8.6,7.8,8.3],
 [12.0,12.6,11.8,12.3,12.8,11.9,12.4,11.7,12.7,12.1,11.9,12.5,12.2,12.9,11.8,12.4,12.8,12.0,11.7,12.5,13.4,12.1,12.7,11.9,12.3,12.8,12.0,11.6,12.6,12.2,11.9,12.4,11.0,12.1,12.7,11.8,12.3,12.0,12.6,11.8,12.2,12.8,13.0,12.0,12.5,11.7,12.3,12.9,11.9,12.4,12.1,11.8,11.5,12.5,12.0,12.6,11.8,12.3,12.8,11.7,12.2,12.7,12.0,11.9,12.4,12.1,12.6,11.9,12.3,11.2,12.5,12.0,12.7,11.8,12.2,12.8,12.1,13.0,13.3,12.4,12.0,12.6,11.9,12.3],
 [16.1,16.7,15.9,16.4,16.9,16.0,16.5,15.8,16.8,16.2,16.0,16.6,16.3,17.0,15.9,16.5,16.9,16.1,15.8,16.6,17.3,16.2,16.8,16.0,16.4,16.9,16.1,15.8,16.7,16.3,16.0,16.5,15.2,16.2,16.8,15.9,16.4,16.1,16.7,15.9,16.3,16.9,17.1,16.1,16.6,15.8,16.4,17.0,16.0,16.5,16.2,15.9,15.6,16.6,16.1,16.7,15.9,16.4,16.9,15.8,16.3,16.8,16.1,16.0,16.5,16.2,16.7,16.0,16.4,15.3,16.6,16.1,16.8,15.9,16.3,16.9,16.2,17.1,17.4,16.5,16.1,16.7,16.0,16.4],
 [20.2,20.8,20.0,20.5,21.0,20.1,20.6,19.9,20.9,20.3,20.1,20.7,20.4,21.1,20.0,20.6,21.0,20.2,19.9,20.7,21.2,20.3,20.9,20.1,20.5,21.0,20.2,19.9,20.8,20.4,20.1,20.6,19.6,20.3,20.9,20.0,20.5,20.2,20.8,20.0,20.4,21.0,21.2,20.2,20.7,19.9,20.5,21.1,20.1,20.6,20.3,20.0,19.7,20.7,20.2,20.8,20.0,20.5,21.0,19.9,20.4,20.9,20.2,20.1,20.6,20.3,20.8,20.1,20.5,19.6,20.7,20.2,20.9,20.0,20.4,21.0,20.3,21.2,21.5,20.6,20.2,20.8,20.1,20.5],
 [24.1,24.7,23.9,24.4,24.9,24.0,24.5,23.8,24.8,24.2,24.0,24.6,24.3,25.0,23.9,24.5,24.9,24.1,23.8,24.6,25.1,24.2,24.8,24.0,24.4,24.9,24.1,23.8,24.7,24.3,24.0,24.5,23.5,24.2,24.8,23.9,24.4,24.1,24.7,23.9,24.3,24.9,25.1,24.1,24.6,23.8,24.4,25.0,24.0,24.5,24.2,23.9,23.4,24.6,24.1,24.7,23.9,24.4,24.9,23.8,24.3,24.8,24.1,24.0,24.5,24.2,24.7,24.0,24.4,23.5,24.6,24.1,24.8,23.9,24.3,24.9,24.2,25.1,25.4,24.5,24.1,24.7,24.0,24.4],
 [28.2,28.8,28.0,28.5,29.0,28.1,28.6,27.9,28.9,28.3,28.1,28.7,28.4,29.1,28.0,28.6,29.0,28.2,27.9,28.7,29.2,28.3,28.9,28.1,28.5,29.0,28.2,27.9,28.8,28.4,28.1,28.6,29.4,28.3,28.9,28.0,28.5,28.2,28.8,28.0,28.4,29.0,29.2,28.2,28.7,27.9,28.5,29.1,28.1,28.6,28.3,28.0,27.6,28.7,28.2,28.8,28.0,28.5,29.0,27.9,28.4,28.9,28.2,28.1,28.6,28.3,28.8,28.1,28.5,27.7,28.7,28.2,28.9,28.0,28.4,29.0,28.3,29.2,29.4,28.6,28.2,28.8,28.1,28.5],
 [32.3,32.9,32.1,32.6,33.1,32.2,32.7,32.0,33.0,32.4,32.2,32.8,32.5,33.3,32.1,32.7,33.1,32.3,32.0,32.8,33.4,32.4,33.0,32.2,32.6,33.1,32.3,32.0,32.9,32.5,32.2,32.7,33.5,32.4,33.0,32.1,32.6,32.3,32.9,32.1,32.5,33.1,33.4,32.3,32.8,32.0,32.6,33.2,32.2,32.7,32.4,32.1,31.6,32.8,32.3,32.9,32.1,32.6,33.1,32.0,32.5,33.0,32.3,32.2,32.7,32.4,32.9,32.2,32.6,31.7,32.8,32.3,33.0,32.1,32.5,33.1,32.4,33.3,33.6,32.7,32.3,32.9,32.2,32.6],
 [36.4,37.0,36.1,36.7,37.2,36.2,36.8,36.0,37.1,36.5,36.2,36.9,36.6,37.4,36.1,36.8,37.2,36.4,36.0,36.9,37.6,36.5,37.1,36.2,36.7,37.2,36.4,36.0,37.0,36.6,36.3,36.8,37.8,36.5,37.1,36.1,36.7,36.4,37.0,36.2,36.6,37.2,37.6,36.4,36.9,36.0,36.7,37.3,36.2,36.8,36.5,36.1,35.6,36.9,36.4,37.0,36.2,36.7,37.2,36.0,36.6,37.1,36.4,36.3,36.8,36.5,37.0,36.3,36.7,35.6,36.9,36.4,37.1,36.2,36.6,37.2,36.5,37.4,37.8,36.8,36.4,37.0,36.3,36.7],
 [40.5,41.1,40.2,40.8,41.3,40.3,40.9,40.1,41.2,40.6,40.3,41.0,40.7,41.5,40.2,40.9,41.3,40.5,40.1,41.0,41.8,40.6,41.2,40.3,40.8,41.3,40.5,40.1,41.1,40.7,40.4,40.9,42.5,40.6,41.2,40.2,40.8,40.5,41.1,40.3,40.7,41.3,42.0,40.5,41.0,40.1,40.8,41.4,40.3,40.9,40.6,40.2,39.6,41.0,40.5,41.1,40.3,40.8,41.3,40.1,40.7,41.2,40.5,40.4,40.9,40.6,41.1,40.4,40.8,41.8,41.0,40.5,41.2,40.3,40.7,41.3,40.6,41.5,42.0,40.9,40.5,41.1,40.4,40.8]
];
const muTrace3 = [
 [4.5,3.7,4.2,4.9,3.4,4.0,4.6,3.8,4.3,5.1,3.6,4.4,4.0,3.5,4.8,4.2,3.9,4.7,3.3,4.1,4.9,3.7,4.3,4.0,5.3,3.8,4.5,3.6,4.2,4.8,3.5,4.1,4.6,3.9,4.4,3.4,4.7,4.0,3.2,4.5,4.1,3.7,4.8,4.3,3.6,4.0,4.6,3.8,4.2,5.0,3.9,4.4,3.5,4.1,4.7,3.8,4.3,3.6,4.5,4.0,3.4,4.6,4.2,3.9,4.8,4.1,3.7,4.4,4.0,3.5,4.7,4.2,3.8,4.5,3.6,4.1,4.9,3.9,4.3,3.5,4.4,4.0,3.3,4.6,4.2,3.8,4.5,4.9,3.7,4.1,4.8,3.6,4.2,4.0,4.7,3.8,4.4,4.1,3.6,4.3],
 [8.6,7.8,8.3,8.9,7.6,8.1,8.7,7.9,8.4,9.1,7.7,8.5,8.1,7.6,8.8,8.3,8.0,8.7,7.5,8.2,8.9,7.8,8.4,8.1,9.3,7.9,8.6,7.7,8.3,8.8,7.6,8.2,8.7,8.0,8.5,7.5,8.8,8.1,7.4,8.6,8.2,7.8,8.9,8.4,7.7,8.1,8.7,7.9,8.3,9.0,8.0,8.5,7.6,8.2,8.8,7.9,8.4,7.7,8.6,8.1,7.5,8.7,8.3,8.0,8.9,8.2,7.8,8.5,8.1,7.6,8.8,8.3,7.9,8.6,7.7,8.2,9.0,8.0,8.4,7.6,8.5,8.1,7.4,8.7,8.3,7.9,8.6,9.2,7.8,8.2,8.9,7.7,8.3,8.1,8.8,7.9,8.5,8.2,7.7,8.4],
 [12.0,12.7,11.8,12.4,12.9,11.7,12.3,12.6,11.9,12.5,13.0,12.1,11.8,12.6,12.2,11.6,12.8,12.3,11.9,12.5,12.1,12.9,11.7,12.4,12.0,12.7,11.8,12.3,13.2,12.0,11.6,12.5,12.2,11.9,12.8,12.1,12.4,11.7,12.6,12.3,11.9,12.7,12.0,12.4,11.8,12.9,12.2,11.6,12.5,12.1,12.8,11.9,12.3,12.6,11.7,12.2,12.9,12.0,11.8,12.4,12.1,12.7,11.9,12.5,12.2,11.7,12.8,12.3,12.0,12.6,11.8,12.4,13.1,12.1,11.9,12.6,12.2,11.7,12.5,12.0,12.8,11.9,12.3,12.6,12.1,11.8,12.4,12.9,12.0,11.7,12.5,12.2,11.9,12.7,12.1,12.4,11.8,12.6,12.2,12.0],
 [16.6,16.0,16.4,16.9,15.8,16.2,16.7,16.1,16.5,17.1,15.9,16.6,16.2,15.8,16.8,16.4,16.1,16.7,15.7,16.3,16.9,16.0,16.5,16.2,17.2,16.0,16.6,15.9,16.4,16.8,15.8,16.3,16.7,16.1,16.5,15.7,16.8,16.2,15.6,16.6,16.3,15.9,16.9,16.4,15.9,16.2,16.7,16.0,16.4,17.0,16.1,16.5,15.8,16.3,16.8,16.0,16.4,15.9,16.6,16.2,15.7,16.7,16.3,16.1,16.9,16.2,15.9,16.5,16.2,15.8,16.8,16.3,16.0,16.6,15.9,16.3,17.0,16.1,16.4,15.8,16.5,16.2,15.6,16.7,16.3,16.0,16.6,17.1,15.9,16.3,16.9,15.8,16.4,16.2,16.8,16.0,16.5,16.3,15.9,16.4],
 [20.7,20.1,20.5,20.9,19.9,20.3,20.8,20.2,20.6,21.1,20.0,20.7,20.3,19.9,20.9,20.5,20.2,20.8,19.8,20.4,21.0,20.1,20.6,20.3,21.2,20.1,20.7,20.0,20.5,20.9,19.9,20.4,20.8,20.2,20.6,19.8,20.9,20.3,19.7,20.7,20.4,20.0,21.0,20.5,20.0,20.3,20.8,20.1,20.5,21.0,20.2,20.6,19.9,20.4,20.9,20.1,20.5,20.0,20.7,20.3,19.8,20.8,20.4,20.2,21.0,20.3,20.0,20.6,20.3,19.9,20.9,20.4,20.1,20.7,20.0,20.4,21.1,20.2,20.5,19.9,20.6,20.3,19.7,20.8,20.4,20.1,20.7,21.2,20.0,20.4,21.0,19.9,20.5,20.3,20.9,20.1,20.6,20.4,20.0,20.5],
 [24.2,24.8,24.0,24.5,24.9,23.9,24.4,24.7,24.1,24.6,25.0,24.2,23.9,24.7,24.3,23.8,24.8,24.4,24.0,24.6,24.2,24.9,23.9,24.5,24.1,24.8,24.0,24.4,25.1,24.1,23.8,24.6,24.3,24.0,24.9,24.2,24.5,23.9,24.7,24.4,24.0,24.8,24.1,24.5,23.9,25.0,24.3,23.8,24.6,24.2,24.9,24.0,24.4,24.7,23.9,24.3,25.0,24.1,23.9,24.5,24.2,24.8,24.0,24.6,24.3,23.9,24.9,24.4,24.1,24.7,23.9,24.5,25.1,24.2,24.0,24.7,24.3,23.8,24.6,24.1,24.9,24.0,24.4,24.7,24.2,23.9,24.5,25.0,24.1,23.9,24.6,24.3,24.0,24.8,24.2,24.5,23.9,24.7,24.3,24.1],
 [28.8,28.2,28.6,29.0,28.0,28.4,28.9,28.3,28.7,29.2,28.1,28.8,28.4,28.0,29.0,28.6,28.3,28.9,27.9,28.5,29.1,28.2,28.7,28.4,29.3,28.2,28.8,28.1,28.6,29.0,28.0,28.5,28.9,28.3,28.7,27.9,29.0,28.4,27.8,28.8,28.5,28.1,29.1,28.6,28.1,28.4,28.9,28.2,28.6,29.1,28.3,28.7,28.0,28.5,29.0,28.2,28.6,28.1,28.8,28.4,27.9,28.9,28.5,28.3,29.1,28.4,28.1,28.7,28.4,28.0,29.0,28.5,28.2,28.8,28.1,28.5,29.2,28.3,28.6,28.0,28.7,28.4,27.8,28.9,28.5,28.2,28.8,29.3,28.1,28.5,29.1,28.0,28.6,28.4,29.0,28.2,28.7,28.5,28.1,28.6],
 [32.4,33.0,32.2,32.7,33.1,32.1,32.6,32.9,32.3,32.8,33.2,32.4,32.1,32.9,32.5,32.0,33.0,32.6,32.2,32.8,32.4,33.1,32.1,32.7,32.3,33.0,32.2,32.6,33.3,32.3,32.0,32.8,32.5,32.2,33.1,32.4,32.7,32.1,32.9,32.6,32.2,33.0,32.3,32.7,32.1,33.2,32.5,32.0,32.8,32.4,33.1,32.2,32.6,32.9,32.1,32.5,33.2,32.3,32.1,32.7,32.4,33.0,32.2,32.8,32.5,32.1,33.1,32.6,32.3,32.9,32.1,32.7,33.3,32.4,32.2,32.9,32.5,32.0,32.8,32.3,33.1,32.2,32.6,32.9,32.4,32.1,32.7,33.2,32.3,32.1,32.8,32.5,32.2,33.0,32.4,32.7,32.1,32.9,32.5,32.3],
 [37.0,36.3,36.8,37.2,36.1,36.5,37.1,36.4,36.9,37.4,36.2,37.0,36.6,36.1,37.2,36.8,36.4,37.1,36.0,36.7,37.3,36.3,36.9,36.6,37.5,36.3,37.0,36.2,36.8,37.2,36.1,36.7,37.1,36.5,36.9,36.0,37.2,36.6,35.9,37.0,36.7,36.2,37.3,36.8,36.2,36.6,37.1,36.3,36.8,37.3,36.5,36.9,36.1,36.7,37.2,36.3,36.8,36.2,37.0,36.6,36.0,37.1,36.7,36.4,37.3,36.6,36.2,36.9,36.6,36.1,37.2,36.7,36.3,37.0,36.2,36.7,37.4,36.5,36.8,36.1,36.9,36.6,35.9,37.1,36.7,36.3,37.0,37.5,36.2,36.7,37.3,36.1,36.8,36.6,37.2,36.3,36.9,36.7,36.2,36.8],
 [40.6,41.2,40.3,40.9,41.4,40.2,40.8,41.1,40.4,41.0,41.5,40.6,40.2,41.1,40.7,40.1,41.3,40.8,40.3,41.0,40.5,41.3,40.2,40.9,40.4,41.2,40.3,40.8,41.6,40.4,40.1,41.0,40.7,40.3,41.3,40.5,40.9,40.2,41.1,40.8,40.3,41.2,40.4,40.9,40.2,41.4,40.7,40.1,41.0,40.5,41.3,40.3,40.8,41.1,40.2,40.7,41.4,40.4,40.2,40.9,40.5,41.2,40.3,41.0,40.7,40.2,41.3,40.8,40.4,41.1,40.2,40.9,41.6,40.5,40.3,41.1,40.7,40.1,41.0,40.4,41.3,40.3,40.8,41.1,40.5,40.2,40.9,41.4,40.4,40.2,41.0,40.7,40.3,41.2,40.5,40.9,40.2,41.1,40.7,40.4]
];

// ---------------- styling ----------------
const BLUE = '#1f77b4';
const TRACE_BLUE = 'rgba(31,119,180,0.42)';
const TAB10 = ['#1f77b4','#ff7f0e','#2ca02c','#d62728','#9467bd','#8c564b','#e377c2','#7f7f7f','#bcbd22','#17becf'];
const KDE_DASH = [[], [5.5,2.4], [1.5,2.5], [9.6,2.4,1.5,2.4]];
const TRACE_DASH = [[], [2.8,1.2], [0.8,1.3], [4.8,1.2,0.8,1.2]];
const TICK_FONT = {family:'DejaVu Sans', size:13};
const TITLE_FONT = {family:'DejaVu Sans', size:16, weight:'normal'};
const ROW_TOP = [29, 226, 423, 620, 817];
const BOX_H = 138, TITLE_H = 29, XAX_H = 25;
const LEFT_X = 10, LEFT_W = 561, RIGHT_X = 573, RIGHT_W = 605, YAX_W = 45;

const fig = document.getElementById('fig');
const framePlugin = { id:'frame', afterDraw(chart){
  const {ctx, chartArea:a} = chart; ctx.save(); ctx.strokeStyle='#000'; ctx.lineWidth=1;
  ctx.strokeRect(Math.round(a.left)+0.5, Math.round(a.top)+0.5, Math.round(a.right-a.left)-1, Math.round(a.bottom-a.top)-1);
  ctx.restore(); } };

function pts(xs, ys){ return xs.map((x,i)=>({x, y: ys[i]})); }
function draws(n, step, off){ return Array.from({length:n}, (_,i)=> i*step+off); }

function axis(min, max, ticks, labels, isX){
  return { type:'linear', min, max, position: isX ? 'bottom' : 'left',
    afterBuildTicks: s => { s.ticks = ticks.map(v=>({value:v})); },
    afterFit: s => { if (isX) s.height = XAX_H; else s.width = YAX_W; },
    grid:{display:true, drawOnChartArea:false, drawTicks:true, tickLength:4, color:'#000', lineWidth:1},
    border:{display:false},
    ticks:{autoSkip:false, maxRotation:0, padding: isX ? 4 : 5, color:'#000', font:TICK_FONT, callback:(v,i)=>labels[i]} };
}

function makePanel(left, width, row, title, datasets, scales){
  const H = TITLE_H + BOX_H + XAX_H;
  const div = document.createElement('div'); div.className='panel';
  div.style.left=left+'px'; div.style.top=(ROW_TOP[row]-TITLE_H)+'px';
  div.style.width=width+'px'; div.style.height=H+'px';
  const c = document.createElement('canvas'); c.width=width; c.height=H;
  c.style.width=width+'px'; c.style.height=H+'px';
  div.appendChild(c); fig.appendChild(div);
  new Chart(c, { type:'line', data:{datasets},
    options:{ responsive:false, animation:false, events:[], layout:{padding:0},
      plugins:{ legend:{display:false}, tooltip:{enabled:false},
        title:{display:true, text:title, color:'#000', font:TITLE_FONT, padding:{top:7.4, bottom:2.4}} },
      elements:{point:{radius:0}}, scales },
    plugins:[framePlugin] });
}

function kdeSets(grid, chains){
  return chains.map((ys,k)=>({data:pts(grid, ys), borderColor:BLUE, borderWidth:1.5, borderDash:KDE_DASH[k],
    cubicInterpolationMode:'monotone', spanGaps:false, fill:false, pointRadius:0}));
}
function traceSets(chains){
  const offs = [0,3,5,2], steps = [8,8,8,4];
  return chains.map((ys,k)=>({data:pts(draws(ys.length, steps[k], offs[k]), ys), borderColor:TRACE_BLUE, borderWidth:0.9,
    borderDash:TRACE_DASH[k], tension:0, fill:false, pointRadius:0}));
}
const yHidden = {display:false, min:-0.05, max:1.05};

// left column
makePanel(LEFT_X, LEFT_W, 0, titles[0], kdeSets(aKdeGrid,[aKdeC0,aKdeC1,aKdeC2,aKdeC3]),
  {x:axis(-5.49,10.79,aKdeTicks,aKdeTickLabels,true), y:yHidden});
makePanel(LEFT_X, LEFT_W, 1, titles[1], kdeSets(bKdeGrid,[bKdeC0,bKdeC1,bKdeC2,bKdeC3]),
  {x:axis(2.447,5.093,bKdeTicks,bKdeTickLabels,true), y:yHidden});
makePanel(LEFT_X, LEFT_W, 2, titles[2], kdeSets(sKdeGrid,[sKdeC0,sKdeC1,sKdeC2,sKdeC3]),
  {x:axis(-0.51,12.18,sKdeTicks,sKdeTickLabels,true), y:yHidden});
makePanel(LEFT_X, LEFT_W, 3, titles[3], kdeSets(nKdeGrid,[nKdeC0,nKdeC1,nKdeC2,nKdeC3]),
  {x:axis(-0.28,9.76,nKdeTicks,nKdeTickLabels,true), y:yHidden});
const muKdeSets = [];
muKdeX.forEach((xs,k)=>{
  [muKdeSolid[k], muKdeDashed[k], muKdeDotted[k]].forEach((ys,j)=>{
    muKdeSets.push({data:pts(xs, ys), borderColor:TAB10[k], borderWidth:1.5, borderDash:KDE_DASH[j],
      cubicInterpolationMode:'monotone', spanGaps:false, fill:false, pointRadius:0});
  });
});
makePanel(LEFT_X, LEFT_W, 4, titles[4], muKdeSets,
  {x:axis(-2.53,47.68,mKdeTicks,mKdeTickLabels,true), y:yHidden});

// right column
makePanel(RIGHT_X, RIGHT_W, 0, titles[0], traceSets([aTrace1,aTrace2,aTrace3,aTrace4]),
  {x:axis(0,999,drawTicks,drawTickLabels,true), y:axis(-5.65,10.75,aTraceTicks,aTraceTickLabels,false)});
makePanel(RIGHT_X, RIGHT_W, 1, titles[1], traceSets([bTrace1,bTrace2,bTrace3,bTrace4]),
  {x:axis(0,999,drawTicks,drawTickLabels,true), y:axis(2.48,5.10,bTraceTicks,bTraceTickLabels,false)});
makePanel(RIGHT_X, RIGHT_W, 2, titles[2], traceSets([sTrace1,sTrace2,sTrace3,sTrace4]),
  {x:axis(0,999,drawTicks,drawTickLabels,true), y:axis(-0.53,12.18,sTraceTicks,sTraceTickLabels,false)});
makePanel(RIGHT_X, RIGHT_W, 3, titles[3], traceSets([nTrace1,nTrace2,nTrace3,nTrace4]),
  {x:axis(0,999,drawTicks,drawTickLabels,true), y:axis(-0.28,9.76,nTraceTicks,nTraceTickLabels,false)});
const muTraceSets = [];
muTrace1.forEach((ys,k)=>{
  const col = TAB10[k];
  const rgba = 'rgba('+parseInt(col.slice(1,3),16)+','+parseInt(col.slice(3,5),16)+','+parseInt(col.slice(5,7),16)+',0.5)';
  muTraceSets.push({data:pts(draws(ys.length,12,0), ys), borderColor:rgba, borderWidth:0.9, tension:0, pointRadius:0, fill:false});
  muTraceSets.push({data:pts(draws(muTrace2[k].length,12,6), muTrace2[k]), borderColor:rgba, borderWidth:0.9, borderDash:TRACE_DASH[1], tension:0, pointRadius:0, fill:false});
  muTraceSets.push({data:pts(draws(muTrace3[k].length,10,3), muTrace3[k]), borderColor:rgba, borderWidth:0.9, borderDash:TRACE_DASH[2], tension:0, pointRadius:0, fill:false});
});
makePanel(RIGHT_X, RIGHT_W, 4, titles[4], muTraceSets,
  {x:axis(0,999,drawTicks,drawTickLabels,true), y:axis(-2.5,47.8,mTraceTicks,mTraceTickLabels,false)});
</script></body></html>
